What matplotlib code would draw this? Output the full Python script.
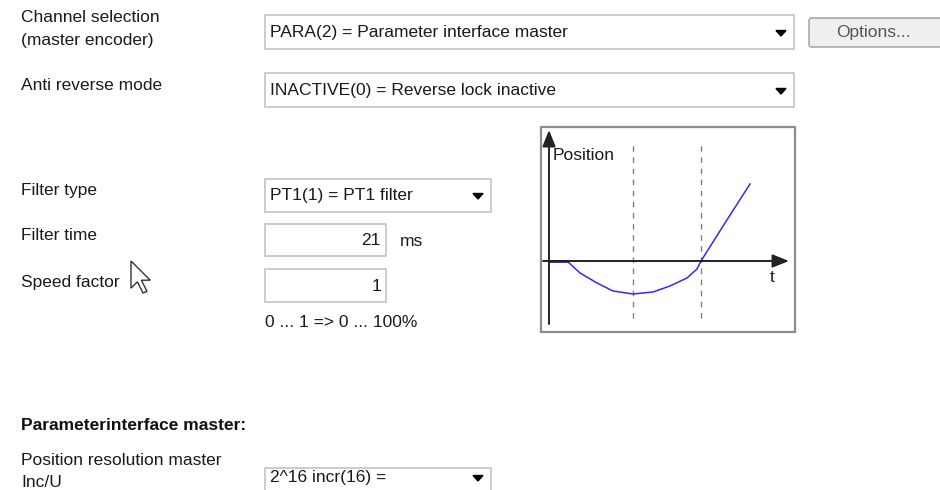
import numpy as np
import matplotlib.pyplot as plt
from matplotlib.patches import Rectangle, Polygon, FancyBboxPatch

plt.rcParams['font.family'] = ['Liberation Sans', 'DejaVu Sans']

# form labels, one entry per text line
labels = ["Channel selection", "(master encoder)", "Anti reverse mode",
          "Filter type", "Filter time", "Speed factor",
          "Position resolution master", "Inc/U"]
label_y = [18, 40, 85, 190, 235, 282, 460, 482]

combo_texts = ["PARA(2) = Parameter interface master",
               "INACTIVE(0) = Reverse lock inactive",
               "PT1(1) = PT1 filter",
               "2^16 incr(16) ="]
filter_time = "21"
speed_factor = "1"

# position curve of the sketch (t, position)
curve_t = [0, 18, 31, 48, 64, 84, 104, 121, 138, 148, 152, 176, 201]
curve_pos = [0, 0, -12, -22, -30, -33, -31, -25, -17, -8, 0, 38, 77]
dash_t = [84, 152]

fig = plt.figure(figsize=(9.4, 4.9), dpi=100)
fig.patch.set_facecolor('white')
ax = fig.add_axes([0, 0, 1, 1])
ax.set_xlim(0, 940)
ax.set_ylim(490, 0)
ax.axis('off')

fs = 12.5
for txt, y in zip(labels, label_y):
    ax.text(21, y, txt, fontsize=fs, va='center', ha='left', color='#1a1a1a')

def box(x0, y0, x1, y1):
    ax.add_patch(Rectangle((x0, y0), x1 - x0, y1 - y0, facecolor='white',
                           edgecolor='#c4c4c4', lw=1.2))

def arrow(x, y):
    ax.add_patch(Polygon([(x - 5, y - 2.5), (x + 5, y - 2.5), (x, y + 3)],
                         closed=True, color='black'))

# combo boxes
combos = [(265, 15, 794, 49), (265, 73, 794, 107), (265, 179, 491, 212), (265, 468, 491, 500)]
text_y = [32, 90, 195, 477]
for (x0, y0, x1, y1), txt, ty in zip(combos, combo_texts, text_y):
    box(x0, y0, x1, y1)
    ax.text(270, ty, txt, fontsize=fs, va='center', ha='left', color='#1a1a1a')
    arrow(x1 - 13, ty + 1)

# Options button
ax.add_patch(FancyBboxPatch((809, 18), 140, 29, boxstyle='round,pad=0,rounding_size=3',
                            facecolor='#efefef', edgecolor='#a8a8a8', lw=1.2))
ax.text(873, 33, "Options...", fontsize=fs, va='center', ha='center', color='#555555')

# edit boxes
box(265, 224, 386, 256)
ax.text(381, 240, filter_time, fontsize=fs, va='center', ha='right', color='#1a1a1a')
ax.text(400, 241, "ms", fontsize=fs, va='center', ha='left', color='#1a1a1a')
box(265, 269, 386, 302)
ax.text(381, 286, speed_factor, fontsize=fs, va='center', ha='right', color='#1a1a1a')
ax.text(265, 322, "0 ... 1 => 0 ... 100%", fontsize=fs, va='center', ha='left', color='#1a1a1a')

ax.text(21, 425, "Parameterinterface master:", fontsize=fs, va='center', ha='left',
        fontweight='bold', color='#111111')

# mouse cursor
cur = np.array([(0, 0), (0, 17), (4, 13), (7.5, 20), (10, 19), (6.5, 12), (12, 12)]) * 1.6
cur = cur + np.array([131, 261])
ax.add_patch(Polygon(cur, closed=True, facecolor='white', edgecolor='#333333', lw=1))

# sketch panel
ax.add_patch(Rectangle((541, 127), 254, 205, facecolor='white', edgecolor='#8c8c8c', lw=1.6))
ins = fig.add_axes([541 / 940, (490 - 332) / 490, 254 / 940, 205 / 490])
ins.set_xlim(-8, 246)
ins.set_ylim(-71, 134)
ins.axis('off')
ins.patch.set_alpha(0)

head = '-|>,head_length=1.0,head_width=0.4'
ins.annotate('', xy=(0, 131), xytext=(0, -63),
             arrowprops=dict(arrowstyle=head, color='#222222', lw=1.4, shrinkA=0, shrinkB=0))
ins.annotate('', xy=(240, 0), xytext=(-6, 0),
             arrowprops=dict(arrowstyle=head, color='#222222', lw=1.4, shrinkA=0, shrinkB=0))
for t in dash_t:
    ins.plot([t, t], [-57, 119], color='#808080', lw=1, linestyle=(0, (4, 4)))
ins.plot(curve_t, curve_pos, color='#2b2bff', lw=1.1)
ins.plot(curve_t[:2], curve_pos[:2], color='#1a1acc', lw=2)
ins.text(4, 106, "Position", fontsize=fs, va='center', ha='left', color='#1a1a1a')
ins.text(221, -16, "t", fontsize=fs, va='center', ha='left', color='#1a1a1a')

fig.savefig('out.png', dpi=100, facecolor='white')
